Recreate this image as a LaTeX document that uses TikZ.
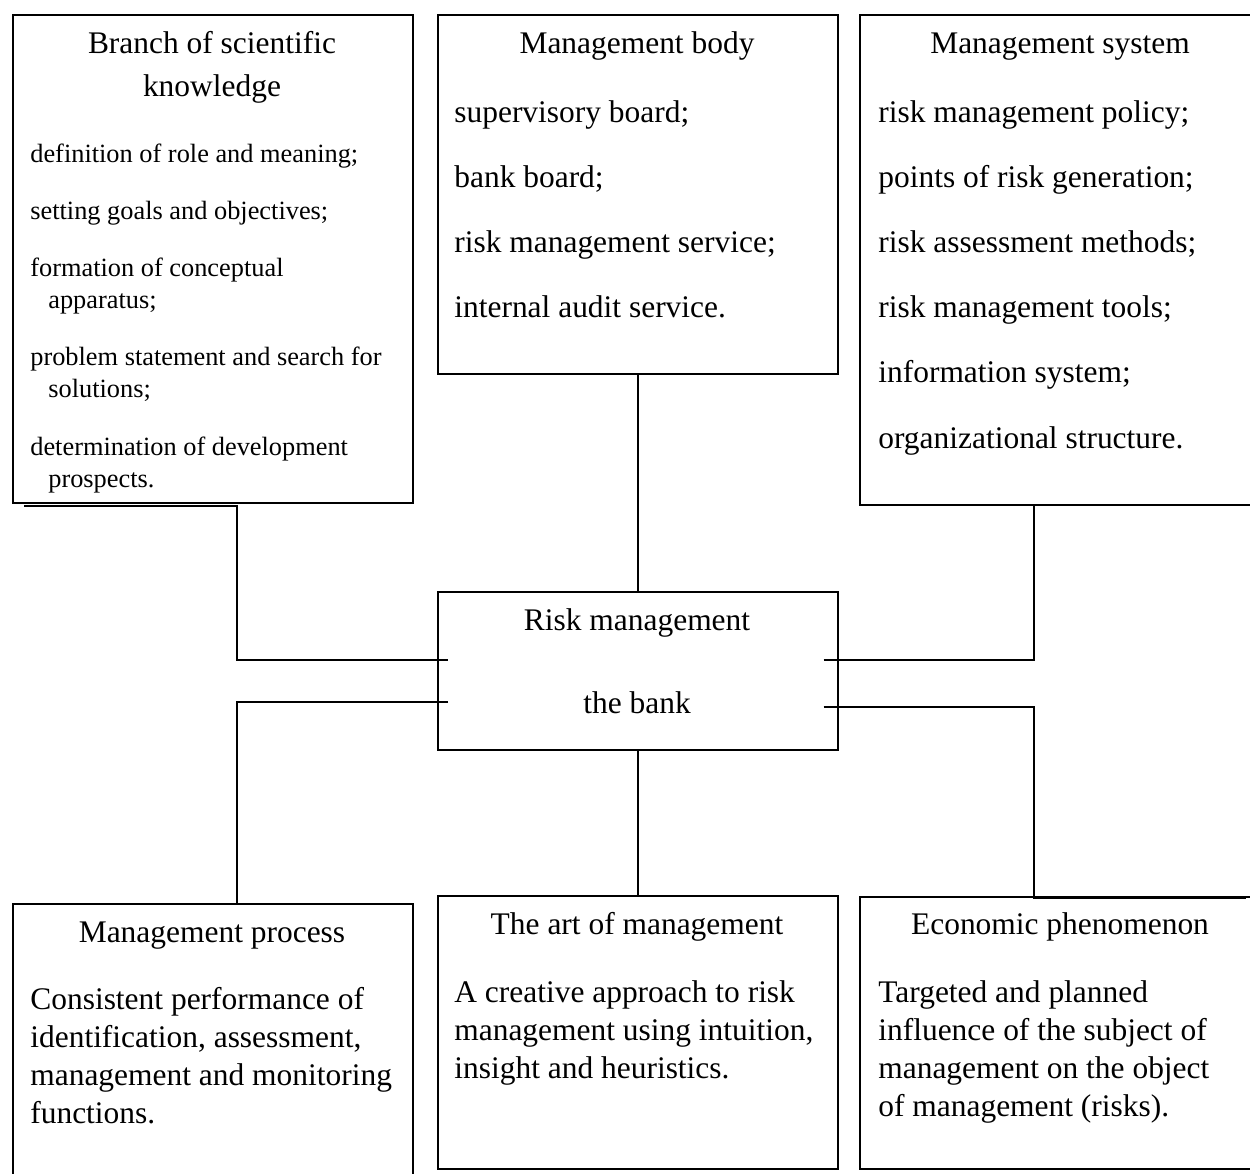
\documentclass[tikz,border=0pt]{standalone}
\usepackage{fontspec}
\setmainfont{Liberation Serif}
\usetikzlibrary{positioning}
\tikzset{
  panel/.style={draw,line width=1pt,anchor=north west,inner sep=0pt},
  link/.style={line width=1pt},
  head/.style={font=\fontsize{17.9}{21}\selectfont,anchor=base,inner sep=0pt},
  item/.style={font=\fontsize{17.9}{21}\selectfont,anchor=base west,inner sep=0pt},
  smallitem/.style={font=\fontsize{15}{18}\selectfont,anchor=base west,inner sep=0pt}
}

\begin{document}
\begin{tikzpicture}[x=0.02cm,y=-0.02cm]
  \useasboundingbox (0,0) rectangle (1250,1173);

  % Boxes
  \node[panel,minimum width=8cm,minimum height=9.76cm] (branch) at (12,14) {};
  \node[panel,minimum width=8cm,minimum height=7.18cm] (body) at (437,14) {};
  \node[panel,minimum width=8.04cm,minimum height=9.8cm] (sys) at (859,14) {};
  \node[panel,minimum width=8cm,minimum height=3.16cm] (core) at (437,591) {};
  \node[panel,minimum width=8cm,minimum height=5.8cm] (proc) at (12,903) {};
  \node[panel,minimum width=8cm,minimum height=5.46cm] (art) at (437,895) {};
  \node[panel,minimum width=8.04cm,minimum height=5.44cm] (econ) at (859,896) {};

  % Branch of scientific knowledge
  \node[head] (branch-h1) at (212,53) {Branch of scientific};
  \node[head] (branch-h2) at (212,96) {knowledge};
  \node[smallitem] (branch-1) at (30,162) {definition of role and meaning;};
  \node[smallitem] (branch-2) at (30,219) {setting goals and objectives;};
  \node[smallitem] (branch-3) at (30,276) {formation of conceptual};
  \node[smallitem] (branch-3b) at (48,308) {apparatus;};
  \node[smallitem] (branch-4) at (30,365) {problem statement and search for};
  \node[smallitem] (branch-4b) at (48,397) {solutions;};
  \node[smallitem] (branch-5) at (30,455) {determination of development};
  \node[smallitem] (branch-5b) at (48,487) {prospects.};

  % Management body
  \node[head] (body-h) at (637,53) {Management body};
  \foreach \t [count=\i] in {supervisory board;, bank board;,
      risk management service;, internal audit service.}
    \node[item] (body-\i) at (454,{122+65*(\i-1)}) {\t};

  % Management system
  \node[head] (sys-h) at (1060,53) {Management system};
  \foreach \t [count=\i] in {risk management policy;, points of risk generation;,
      risk assessment methods;, risk management tools;, information system;,
      organizational structure.}
    \node[item] (sys-\i) at (878,{122+65.2*(\i-1)}) {\t};

  % Centre
  \node[head] (core-h1) at (637,630) {Risk management};
  \node[head] (core-h2) at (637,713) {the bank};

  % Management process
  \node[head] (proc-h) at (212,942) {Management process};
  \foreach \t [count=\i] in {Consistent performance of, {identification, assessment,},
      management and monitoring, functions.}
    \node[item] (proc-\i) at (30,{1009+38*(\i-1)}) {\t};

  % The art of management
  \node[head] (art-h) at (637,934) {The art of management};
  \foreach \t [count=\i] in {A creative approach to risk, {management using intuition,},
      insight and heuristics.}
    \node[item] (art-\i) at (454,{1002+38*(\i-1)}) {\t};

  % Economic phenomenon
  \node[head] (econ-h) at (1060,934) {Economic phenomenon};
  \foreach \t [count=\i] in {Targeted and planned, influence of the subject of,
      management on the object, of management (risks).}
    \node[item] (econ-\i) at (878,{1002+38.3*(\i-1)}) {\t};

  % Connectors
  \coordinate (stubL1) at ([shift={(11,-11)}]core.west);
  \coordinate (stubL2) at ([shift={(11,31)}]core.west);
  \coordinate (stubR1) at ([shift={(-15,-11)}]core.east);
  \coordinate (stubR2) at ([shift={(-15,36)}]core.east);

  \draw[link] ([shift={(12,2)}]branch.south west) -- ([shift={(24,2)}]branch.south) |- (stubL1);
  \draw[link] (body.south) -- (core.north);
  \draw[link] (stubR1) -| ([xshift=-0.54cm]sys.south);
  \draw[link] (stubL2) -| ([xshift=0.48cm]proc.north);
  \draw[link] (core.south) -- (art.north);
  \draw[link] (stubR2) -| ([shift={(-27,2)}]econ.north) -- ([shift={(185,2)}]econ.north);
\end{tikzpicture}
\end{document}
